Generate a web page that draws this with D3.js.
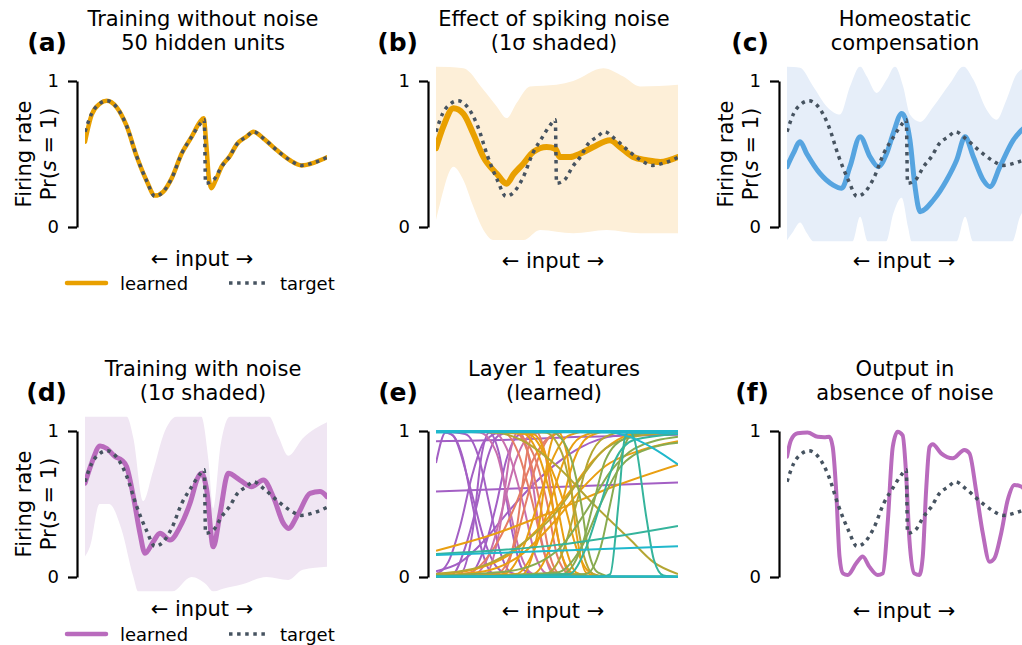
<!DOCTYPE html>
<html>
<head>
<meta charset="utf-8">
<script src="https://cdn.jsdelivr.net/npm/d3@7"></script>
<style>
    body { margin: 0; background: #fff; }
    svg text { font-family: "DejaVu Sans", sans-serif; fill: #000; }
    .title { font-size: 21px; text-anchor: middle; }
    .panel-label { font-size: 25px; font-weight: bold; text-anchor: end; }
    .axis-label { font-size: 21px; text-anchor: middle; }
    .legend-text { font-size: 18px; }
    .y-axis path, .y-axis line { stroke: #000; stroke-width: 2.2; }
    .y-axis text { font-size: 18px; }
    .target { fill: none; stroke: #465360; stroke-width: 3.5; stroke-dasharray: 3.5 4.6; }
    .learned { fill: none; stroke-linecap: round; stroke-linejoin: round; }
    .feature { fill: none; stroke-width: 2; }
</style>
</head>
<body>
<svg id="fig" width="1022" height="645"></svg>
<script>
// ---- data (x: 0..1 along input, y: firing rate) ----
const targetCurve = [[0,0.653],[0.028,0.779],[0.062,0.847],[0.09,0.865],[0.131,0.82],[0.172,0.692],[0.213,0.486],
    [0.255,0.315],[0.289,0.21],[0.324,0.243],[0.358,0.333],[0.4,0.505],[0.441,0.619],[0.475,0.705],[0.493,0.735],
    [0.498,0.30],[0.53,0.32],[0.565,0.415],[0.599,0.486],[0.627,0.566],[0.668,0.62],[0.696,0.653],[0.737,0.607],
    [0.792,0.527],[0.847,0.457],[0.895,0.422],[0.95,0.443],[1,0.477]];

const learnedA = [[0,0.584],[0.028,0.77],[0.062,0.845],[0.09,0.865],[0.131,0.82],[0.172,0.692],[0.213,0.486],
    [0.255,0.315],[0.289,0.215],[0.324,0.243],[0.358,0.333],[0.4,0.505],[0.441,0.619],[0.475,0.72],[0.49,0.745],
    [0.502,0.55],[0.512,0.33],[0.522,0.265],[0.54,0.32],[0.565,0.415],[0.599,0.486],[0.627,0.566],[0.668,0.62],
    [0.696,0.653],[0.737,0.607],[0.792,0.527],[0.847,0.457],[0.895,0.422],[0.95,0.443],[1,0.477]];

const learnedB = [[0,0.54],[0.03,0.687],[0.072,0.813],[0.113,0.776],[0.154,0.639],[0.196,0.479],[0.251,0.365],
    [0.292,0.297],[0.32,0.36],[0.361,0.434],[0.402,0.514],[0.457,0.548],[0.492,0.537],[0.512,0.479],[0.554,0.479],
    [0.595,0.502],[0.65,0.548],[0.719,0.594],[0.76,0.548],[0.815,0.479],[0.871,0.457],[0.926,0.445],[1,0.479]];
const shadeBHigh = [[0,1.1],[0.113,1.087],[0.196,0.94],[0.251,0.826],[0.292,0.746],[0.333,0.849],[0.388,0.963],
    [0.498,0.975],[0.567,1.0],[0.691,1.087],[0.774,1.03],[0.843,0.963],[1,0.975]];
const shadeBLow = [[0,0.048],[0.017,0.162],[0.072,0.413],[0.113,0.322],[0.154,0.14],[0.196,-0.02],[0.237,-0.089],
    [0.361,-0.089],[0.43,-0.02],[0.567,-0.043],[0.705,-0.02],[0.843,-0.043],[1,-0.043]];

const learnedC = [[0,0.413],[0.026,0.504],[0.054,0.584],[0.081,0.504],[0.136,0.367],[0.191,0.287],[0.226,0.265],
    [0.26,0.413],[0.302,0.618],[0.343,0.481],[0.377,0.413],[0.412,0.504],[0.439,0.641],[0.474,0.778],[0.508,0.595],
    [0.529,0.276],[0.55,0.105],[0.605,0.185],[0.66,0.322],[0.701,0.458],[0.736,0.618],[0.77,0.481],[0.811,0.322],
    [0.839,0.276],[0.88,0.413],[0.935,0.595],[0.963,0.653],[1,0.7]];
const shadeCHigh = [[0,1.1],[0.054,1.09],[0.109,0.96],[0.164,0.826],[0.219,0.77],[0.26,0.96],[0.302,1.1],
    [0.33,1.03],[0.37,0.918],[0.412,1.01],[0.446,1.1],[0.48,0.963],[0.508,0.77],[0.55,0.72],[0.605,0.826],
    [0.674,0.985],[0.729,1.1],[0.77,1.01],[0.825,0.803],[0.866,0.735],[0.907,0.872],[0.95,1.05],[1,1.1]];
const shadeCLow = [[0,-0.09],[0.026,-0.03],[0.054,0.03],[0.081,-0.04],[0.11,-0.1],[0.27,-0.1],[0.302,0.07],
    [0.335,-0.1],[0.41,-0.1],[0.439,0.09],[0.474,0.2],[0.5,0.0],[0.515,-0.1],[0.7,-0.1],[0.736,0.07],[0.77,-0.1],
    [0.93,-0.1],[0.963,0.07],[1,0.15]];

const learnedD = [[0,0.642],[0.0275,0.78],[0.062,0.898],[0.09,0.88],[0.124,0.825],[0.152,0.8],[0.172,0.756],
    [0.2,0.55],[0.227,0.3],[0.248,0.162],[0.282,0.242],[0.31,0.3],[0.351,0.253],[0.393,0.345],[0.434,0.505],
    [0.468,0.687],[0.482,0.71],[0.503,0.596],[0.53,0.207],[0.558,0.434],[0.592,0.71],[0.64,0.664],[0.689,0.619],
    [0.737,0.664],[0.778,0.55],[0.82,0.367],[0.84,0.333],[0.882,0.436],[0.93,0.573],[0.971,0.585],[1,0.55]];
const shadeDHigh = [[0,1.1],[0.172,1.1],[0.2,0.95],[0.24,0.52],[0.28,0.72],[0.33,1.0],[0.38,1.1],[0.48,1.1],
    [0.51,0.8],[0.53,0.47],[0.56,0.9],[0.6,1.1],[0.76,1.1],[0.8,0.96],[0.84,0.83],[0.9,0.95],[1,1.06]];
const shadeDLow = [[0,0.14],[0.021,0.21],[0.06,0.5],[0.1,0.5],[0.15,0.33],[0.2,0.0],[0.22,-0.1],[0.36,-0.1],
    [0.44,0.0],[0.5,-0.05],[0.53,-0.1],[0.57,-0.08],[0.65,-0.05],[0.75,0.0],[0.84,-0.02],[0.9,0.05],[1,0.07]];

const learnedF = [[0,0.824],[0.0165,0.938],[0.044,0.984],[0.085,0.989],[0.127,0.96],[0.154,0.957],[0.175,0.96],
    [0.189,0.89],[0.203,0.596],[0.217,0.14],[0.231,0.025],[0.251,0.014],[0.286,0.094],[0.313,0.14],[0.34,0.071],
    [0.375,0.014],[0.396,0.025],[0.416,0.368],[0.437,0.89],[0.457,0.995],[0.478,0.97],[0.492,0.71],[0.506,0.253],
    [0.526,0.025],[0.547,0.014],[0.561,0.14],[0.575,0.596],[0.589,0.89],[0.602,0.91],[0.637,0.847],[0.685,0.813],
    [0.733,0.87],[0.754,0.847],[0.781,0.596],[0.809,0.3],[0.837,0.105],[0.857,0.128],[0.885,0.3],[0.912,0.527],
    [0.94,0.63],[0.967,0.62],[1,0.55]];

// layer 1 features, g = colour group (ordered along the input)
const featureCurves = [
    {g:0, pts:[[0,0.585],[1,0.648]]},
    {g:0, pts:[[0,0.93],[0.3,0.94],[0.6,0.96],[1,0.975]]},
    {g:0, pts:[[0,0.78],[0.04,0.99],[0.07,0.97],[0.14,0.62],[0.2,0.25],[0.25,0.07],[0.32,0.005],[1,0]]},
    {g:0, pts:[[0,1],[0.06,0.98],[0.11,0.82],[0.15,0.5],[0.19,0.18],[0.23,0.03],[0.3,0],[1,0]]},
    {g:0, pts:[[0,1],[0.12,0.98],[0.18,0.8],[0.22,0.5],[0.26,0.2],[0.31,0.03],[0.4,0],[1,0]]},
    {g:0, pts:[[0,0],[0.07,0.02],[0.12,0.2],[0.17,0.5],[0.21,0.8],[0.26,0.97],[0.34,1],[1,1]]},
    {g:0, pts:[[0,0],[0.14,0.02],[0.2,0.2],[0.25,0.5],[0.29,0.8],[0.34,0.97],[0.42,1],[1,1]]},
    {g:0, pts:[[0,0.04],[0.1,0.1],[0.2,0.25],[0.3,0.45],[0.4,0.63],[0.5,0.78],[0.6,0.89],[0.75,0.97],[1,0.995]]},
    {g:0, pts:[[0,0],[0.1,0.02],[0.15,0.3],[0.19,0.85],[0.22,0.99],[0.26,0.85],[0.31,0.35],[0.36,0.05],[0.45,0],[1,0]]},
    {g:0, pts:[[0,0.02],[0.05,0.1],[0.1,0.35],[0.15,0.7],[0.2,0.93],[0.28,0.995],[1,1]]},
    {g:1, pts:[[0,1],[0.18,0.99],[0.25,0.85],[0.3,0.5],[0.35,0.15],[0.4,0.02],[0.48,0],[1,0]]},
    {g:1, pts:[[0,0],[0.16,0.02],[0.23,0.2],[0.28,0.5],[0.33,0.8],[0.39,0.97],[0.48,1],[1,1]]},
    {g:1, pts:[[0,0],[0.2,0.01],[0.26,0.3],[0.31,0.88],[0.34,1],[0.38,0.85],[0.43,0.3],[0.48,0.03],[0.56,0],[1,0]]},
    {g:1, pts:[[0,1],[0.24,0.99],[0.3,0.85],[0.36,0.5],[0.41,0.15],[0.46,0.02],[0.54,0],[1,0]]},
    {g:2, pts:[[0,0],[0.14,0.03],[0.24,0.2],[0.33,0.5],[0.4,0.8],[0.47,0.96],[0.56,1],[1,1]]},
    {g:2, pts:[[0,1],[0.28,0.99],[0.34,0.85],[0.4,0.5],[0.45,0.15],[0.5,0.02],[0.58,0],[1,0]]},
    {g:2, pts:[[0,1],[0.33,0.99],[0.38,0.85],[0.43,0.5],[0.47,0.15],[0.51,0.02],[0.58,0],[1,0]]},
    {g:2, pts:[[0,0],[0.25,0.02],[0.32,0.2],[0.37,0.5],[0.42,0.8],[0.48,0.97],[0.56,1],[1,1]]},
    {g:2, pts:[[0,0],[0.27,0.01],[0.33,0.3],[0.38,0.88],[0.41,1],[0.45,0.85],[0.5,0.3],[0.55,0.03],[0.62,0],[1,0]]},
    {g:2, pts:[[0,1],[0.32,0.99],[0.4,0.85],[0.46,0.5],[0.5,0.15],[0.55,0.02],[0.62,0],[1,0]]},
    {g:3, pts:[[0,0.18],[0.25,0.3],[0.5,0.46],[0.75,0.63],[1,0.77]]},
    {g:3, pts:[[0,0.02],[0.15,0.05],[0.3,0.15],[0.45,0.38],[0.55,0.58],[0.65,0.8],[0.75,0.94],[0.85,0.99],[1,1]]},
    {g:3, pts:[[0,1],[0.35,0.99],[0.42,0.85],[0.48,0.5],[0.52,0.15],[0.57,0.02],[0.65,0],[1,0]]},
    {g:3, pts:[[0,1],[0.4,0.98],[0.46,0.8],[0.5,0.5],[0.54,0.18],[0.58,0.03],[0.66,0],[1,0]]},
    {g:3, pts:[[0,0],[0.28,0.02],[0.36,0.2],[0.42,0.5],[0.48,0.8],[0.55,0.97],[0.64,1],[1,1]]},
    {g:3, pts:[[0,0],[0.33,0.02],[0.41,0.2],[0.47,0.5],[0.53,0.8],[0.6,0.96],[0.7,1],[1,1]]},
    {g:3, pts:[[0,0.01],[0.2,0.04],[0.35,0.15],[0.5,0.4],[0.6,0.6],[0.7,0.76],[0.85,0.87],[1,0.93]]},
    {g:3, pts:[[0,0],[0.35,0.01],[0.42,0.3],[0.47,0.88],[0.5,1],[0.54,0.85],[0.58,0.3],[0.62,0.03],[0.7,0],[1,0]]},
    {g:3, pts:[[0,0],[0.4,0.02],[0.47,0.2],[0.52,0.5],[0.57,0.8],[0.63,0.96],[0.72,1],[1,1]]},
    {g:3, pts:[[0,1],[0.38,0.98],[0.46,0.8],[0.53,0.5],[0.58,0.2],[0.63,0.04],[0.7,0],[1,0]]},
    {g:4, pts:[[0,1],[0.25,0.99],[0.35,0.94],[0.5,0.76],[0.65,0.5],[0.8,0.26],[0.9,0.1],[1,0.02]]},
    {g:4, pts:[[0,0.02],[0.2,0.08],[0.35,0.22],[0.5,0.45],[0.6,0.68],[0.7,0.88],[0.85,0.97],[1,0.99]]},
    {g:4, pts:[[0,1],[0.45,0.99],[0.52,0.85],[0.57,0.5],[0.61,0.15],[0.65,0.02],[0.72,0],[1,0]]},
    {g:4, pts:[[0,0],[0.45,0.02],[0.53,0.2],[0.58,0.5],[0.63,0.8],[0.7,0.96],[0.8,1],[1,1]]},
    {g:5, pts:[[0,1],[0.48,0.99],[0.55,0.85],[0.6,0.5],[0.63,0.18],[0.67,0.03],[0.74,0],[1,0]]},
    {g:5, pts:[[0,0],[0.62,0.02],[0.68,0.2],[0.72,0.5],[0.76,0.8],[0.8,0.96],[0.87,1],[1,1]]},
    {g:5, pts:[[0,0.01],[0.3,0.04],[0.5,0.18],[0.62,0.45],[0.72,0.72],[0.82,0.88],[1,0.96]]},
    {g:5, pts:[[0,0],[0.52,0.02],[0.6,0.2],[0.65,0.5],[0.7,0.8],[0.78,0.95],[0.88,0.99],[1,1]]},
    {g:5, pts:[[0,0],[0.5,0.03],[0.6,0.2],[0.68,0.5],[0.76,0.75],[0.88,0.88],[1,0.92]]},
    {g:6, pts:[[0,0.157],[0.5,0.22],[1,0.35]]},
    {g:6, pts:[[0,0],[0.68,0],[0.72,0.02],[0.754,0.5],[0.78,0.95],[0.8,1.0],[0.82,0.94],[0.87,0.4],[0.9,0.12],[0.94,0.01],[1,0]]},
    {g:6, pts:[[0,0],[0.55,0.02],[0.62,0.2],[0.68,0.5],[0.74,0.8],[0.82,0.94],[1,0.98]]},
    {g:6, pts:[[0,0.005],[1,0.005]]},
    {g:7, pts:[[0,0.15],[1,0.21]]},
    {g:7, pts:[[0,1],[1,1]]},
    {g:7, pts:[[0,0.99],[0.5,0.992],[1,0.985]]},
    {g:7, pts:[[0,1],[0.7,0.995],[0.8,0.96],[0.9,0.88],[1,0.77]]},
    {g:7, pts:[[0,0.003],[1,0.002]]}
];

const featureColors = ["#a35fc4", "#c86fae", "#e57d66", "#e99f12", "#b4a634", "#88ab50", "#35b49c", "#20b8cc"];
const orange = "#e9a000", blue = "#56a4e0", purple = "#b96bbd";

// layout
const colLeft = [85, 436, 787];
const axW = 242;
const rowOne = [81, 431];
const rowZero = [227, 577];

const panels = [
    {id: "a", col: 0, row: 0, title: ["Training without noise", "50 hidden units"], ylabel: true,
        learned: learnedA, color: orange, lw: 4.5, target: true, legend: true, xlabelY: 266},
    {id: "b", col: 1, row: 0, title: ["Effect of spiking noise", "(1σ shaded)"],
        learned: learnedB, color: orange, lw: 6, shade: [shadeBLow, shadeBHigh], shadeColor: "#fdefd8",
        target: true, xlabelY: 268},
    {id: "c", col: 2, row: 0, title: ["Homeostatic", "compensation"], ylabel: true,
        learned: learnedC, color: blue, lw: 5, shade: [shadeCLow, shadeCHigh], shadeColor: "#e6eef9",
        target: true, xlabelY: 268},
    {id: "d", col: 0, row: 1, title: ["Training with noise", "(1σ shaded)"], ylabel: true,
        learned: learnedD, color: purple, lw: 5, shade: [shadeDLow, shadeDHigh], shadeColor: "#f0e6f3",
        target: true, legend: true, xlabelY: 616},
    {id: "e", col: 1, row: 1, title: ["Layer 1 features", "(learned)"], features: true, xlabelY: 618},
    {id: "f", col: 2, row: 1, title: ["Output in", "absence of noise"],
        learned: learnedF, color: purple, lw: 4, target: true, xlabelY: 618}
];

const svg = d3.select("#fig");
const defs = svg.append("defs");

function drawPanel(p) {
    const left = colLeft[p.col];
    const x = d3.scaleLinear().domain([0, 1]).range([left, left + axW]);
    const y = d3.scaleLinear().domain([0, 1]).range([rowZero[p.row], rowOne[p.row]]);
    const line = d3.line().x(d => x(d[0])).y(d => y(d[1])).curve(d3.curveMonotoneX);

    defs.append("clipPath").attr("id", `clip-${p.id}`)
        .append("rect")
        .attr("x", left).attr("y", y(1.1))
        .attr("width", axW).attr("height", y(-0.1) - y(1.1));

    const g = svg.append("g").attr("class", `panel panel-${p.id}`);
    const plot = g.append("g").attr("clip-path", `url(#clip-${p.id})`);

    // shaded 1 sigma band: upper edge forward, lower edge back
    if (p.shade) {
        const upper = line(p.shade[1]);
        const lower = line(p.shade[0].slice().reverse());
        plot.append("path")
            .attr("d", upper + lower.replace(/^M/, "L") + "Z")
            .attr("fill", p.shadeColor);
    }

    if (p.features) {
        plot.selectAll(".feature").data(featureCurves)
            .join("path")
            .attr("class", "feature")
            .attr("stroke", d => featureColors[d.g])
            .attr("d", d => line(d.pts));
    }

    if (p.learned) {
        plot.append("path")
            .attr("class", "learned")
            .attr("stroke", p.color)
            .attr("stroke-width", p.lw)
            .attr("d", line(p.learned));
    }
    if (p.target) {
        plot.append("path")
            .attr("class", "target")
            .attr("d", line(targetCurve));
    }

    // left spine, offset outwards
    const yAxis = d3.axisLeft(y).tickValues([0, 1]).tickFormat(d3.format("d"))
        .tickSize(9).tickSizeOuter(0).tickPadding(9);
    g.append("g")
        .attr("class", "y-axis")
        .attr("transform", `translate(${left - 8},0)`)
        .call(yAxis);

    // titles
    const cx = left + 118;
    const base = p.row === 0 ? 26 : 376;
    p.title.forEach((t, i) => {
        g.append("text").attr("class", "title")
            .attr("x", cx).attr("y", base + i * 24)
            .text(t);
    });
    g.append("text").attr("class", "panel-label")
        .attr("x", left - 18).attr("y", base + 25)
        .text(`(${p.id})`);

    g.append("text").attr("class", "axis-label")
        .attr("x", left + 117).attr("y", p.xlabelY)
        .text("← input →");

    if (p.ylabel) {
        const cy = (y(0) + y(1)) / 2;
        g.append("text").attr("class", "axis-label")
            .attr("transform", `translate(${left - 54},${cy}) rotate(-90)`)
            .text("Firing rate");
        const pr = g.append("text").attr("class", "axis-label")
            .attr("transform", `translate(${left - 29},${cy}) rotate(-90)`);
        pr.append("tspan").text("Pr(");
        pr.append("tspan").attr("font-style", "italic").text("s");
        pr.append("tspan").text(" = 1)");
    }

    if (p.legend) {
        const ly = p.row === 0 ? 283 : 634;
        g.append("line").attr("class", "learned")
            .attr("x1", 67).attr("x2", 106).attr("y1", ly).attr("y2", ly)
            .attr("stroke", p.color).attr("stroke-width", 4.5);
        g.append("text").attr("class", "legend-text")
            .attr("x", 120).attr("y", ly + 7).text("learned");
        g.append("line").attr("class", "target")
            .attr("x1", 229).attr("x2", 266).attr("y1", ly).attr("y2", ly);
        g.append("text").attr("class", "legend-text")
            .attr("x", 280).attr("y", ly + 7).text("target");
    }
}

panels.forEach(drawPanel);
</script>
</body>
</html>
